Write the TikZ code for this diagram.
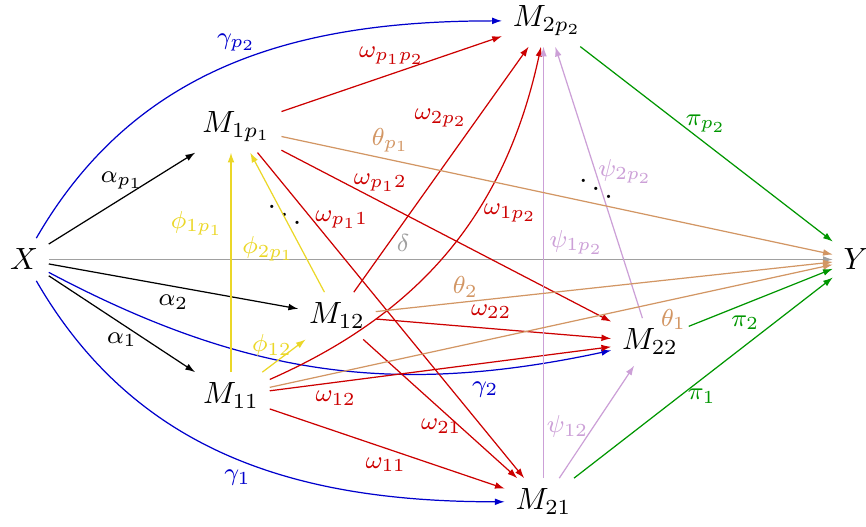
\documentclass[tikz,border=0pt]{standalone}
\usetikzlibrary{arrows.meta}
\definecolor{cblue}{RGB}{0,0,204}
\definecolor{cred}{RGB}{204,0,0}
\definecolor{cgreen}{RGB}{0,150,0}
\definecolor{cyel}{RGB}{235,215,40}
\definecolor{cpink}{RGB}{204,160,215}
\definecolor{ctan}{RGB}{210,150,100}
\definecolor{cgray}{RGB}{160,160,160}
\begin{document}
\begin{tikzpicture}[x=0.01145cm,y=0.01145cm,
  mnode/.style={anchor=base,inner sep=3.33pt},
  lab/.style={font=\footnotesize,inner sep=0pt},
  arr/.style={-{Latex[length=3.2pt,width=2.2pt]},line width=0.4pt}]
\useasboundingbox (0,0) rectangle (866,527);
% nodes
\node[mnode] (x) at (24,257) {$X$};
\node[mnode] (y) at (856,257) {$Y$};
\node[mnode] (m1p1) at (236.5,394) {$M_{1p_1}$};
\node[mnode] (m2p2) at (547,500) {$M_{2p_2}$};
\node[mnode] (m12) at (337,203) {$M_{12}$};
\node[mnode] (m11) at (231,123) {$M_{11}$};
\node[mnode] (m22) at (650,177) {$M_{22}$};
\node[mnode] (m21) at (543.5,17) {$M_{21}$};
\node (dots1) at (284.5,312) {\raisebox{5.2pt}{.}\kern1.3pt\raisebox{2.6pt}{.}\kern1.3pt.};
\node (dots2) at (596,338.5) {\raisebox{5.2pt}{.}\kern1.3pt\raisebox{2.6pt}{.}\kern1.3pt.};
% delta
\draw[arr,cgray] (x) -- node[lab,pos=.452,shift={(0,17)}] (ld) {$\delta$} (y);
% alpha
\draw[arr,black] (x) -- node[lab,pos=.5,shift={(0,18)}] (lap) {$\alpha_{p_1}$} (m1p1);
\draw[arr,black] (x) -- node[lab,pos=.5,shift={(0,-16)}] (la2) {$\alpha_2$} (m12);
\draw[arr,black] (x) -- node[lab,pos=.5,shift={(0,-16)}] (la1) {$\alpha_1$} (m11);
% gamma
\draw[arr,cblue] (x) to[out=60,in=180] node[lab,pos=.5,shift={(5,22)}] (lgp) {$\gamma_{p_2}$} (m2p2);
\draw[arr,cblue] (x) to[out=-60,in=180] node[lab,pos=.5,shift={(5,-21)}] (lg1) {$\gamma_1$} (m21);
\draw[arr,cblue] (x) to[bend right=20] node[lab,pos=.8,shift={(-3,-19)}] (lg2) {$\gamma_2$} (m22);
% omega
\draw[arr,cred] (m1p1) -- node[lab,pos=.5,shift={(0,18)}] (lw1) {$\omega_{p_1p_2}$} (m2p2);
\draw[arr,cred] (m12) -- node[lab,pos=.71,shift={(-37,0)}] (lw2) {$\omega_{2p_2}$} (m2p2);
\draw[arr,cred] (m11) to[bend right=27] node[lab,pos=.6,shift={(36,2)}] (lw3) {$\omega_{1p_2}$} (m2p2);
\draw[arr,cred] (m1p1) -- node[lab,pos=.3,shift={(0,19)}] (lw4) {$\omega_{p_12}$} (m22);
\draw[arr,cred] (m1p1) -- node[lab,pos=.2,shift={(31,-2)}] (lw5) {$\omega_{p_11}$} (m21);
\draw[arr,cred] (m12) -- node[lab,pos=.49,shift={(0,17)}] (lw6) {$\omega_{22}$} (m22);
\draw[arr,cred] (m12) -- node[lab,pos=.5,shift={(1,-17.5)}] (lw7) {$\omega_{21}$} (m21);
\draw[arr,cred] (m11) -- node[lab,pos=.193,shift={(0,-16)}] (lw8) {$\omega_{12}$} (m22);
\draw[arr,cred] (m11) -- node[lab,pos=.494,shift={(0,-16.5)}] (lw9) {$\omega_{11}$} (m21);
% phi
\draw[arr,cyel] (m11) -- node[lab,pos=.677,shift={(-34,0)}] (lf1) {$\phi_{1p_1}$} (m11 |- m1p1.south);
\draw[arr,cyel] (m12) -- node[lab,pos=.31,shift={(-33,0)}] (lf2) {$\phi_{2p_1}$} (m1p1);
\draw[arr,cyel] (m11) -- node[lab,pos=.5,shift={(-12,10)}] (lf3) {$\phi_{12}$} (m12);
% psi
\draw[arr,cpink] (m21) -- node[lab,pos=.547,shift={(33,0)}] (ls1) {$\psi_{1p_2}$} (m21 |- m2p2.south);
\draw[arr,cpink] (m22) -- node[lab,pos=.541,shift={(30,0)}] (ls2) {$\psi_{2p_2}$} (m2p2);
\draw[arr,cpink] (m21) -- node[lab,pos=.457,shift={(-26,0)}] (ls3) {$\psi_{12}$} (m22);
% theta
\draw[arr,ctan] (m1p1) -- node[lab,pos=.198,shift={(0,20)}] (lt1) {$\theta_{p_1}$} (y);
\draw[arr,ctan] (m12) -- node[lab,pos=.196,shift={(0,15)}] (lt2) {$\theta_2$} (y);
\draw[arr,ctan] (m11) -- node[lab,pos=.717,shift={(0,-20)}] (lt3) {$\theta_1$} (y);
% pi
\draw[arr,cgreen] (m2p2) -- node[lab,pos=.498,shift={(0,20)}] (lp1) {$\pi_{p_2}$} (y);
\draw[arr,cgreen] (m22) -- node[lab,pos=.393,shift={(0,-19)}] (lp2) {$\pi_2$} (y);
\draw[arr,cgreen] (m21) -- node[lab,pos=.494,shift={(0,-17)}] (lp3) {$\pi_1$} (y);
\end{tikzpicture}
\end{document}
